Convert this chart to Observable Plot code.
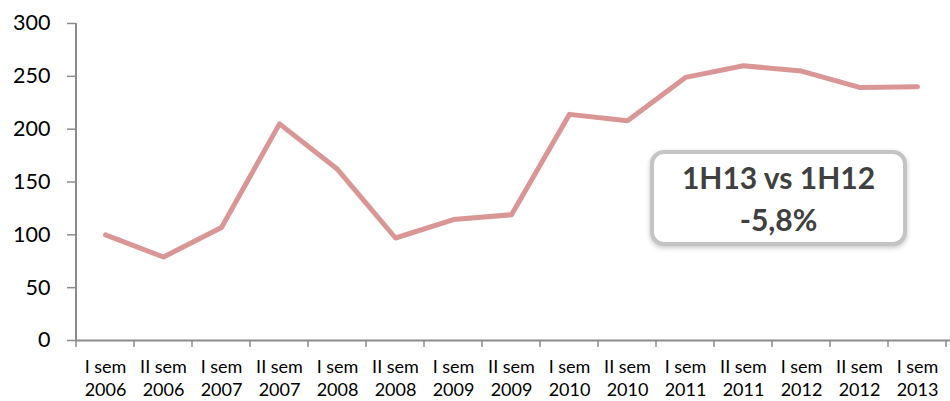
<!DOCTYPE html>
<html>
<head>
<meta charset="utf-8">
<script src="https://cdn.jsdelivr.net/npm/d3@7"></script>
<script src="https://cdn.jsdelivr.net/npm/@observablehq/plot@0.6"></script>
<style>
  html, body { margin: 0; padding: 0; background: #fff; }
  #wrap { position: relative; width: 950px; height: 401px; overflow: hidden; font-family: Lato, "Open Sans", sans-serif; }
  #note {
    position: absolute; left: 650px; top: 150px; width: 249px; height: 88px;
    border: 4px solid #c4c4c4; border-radius: 14px; background: #fff;
    box-shadow: 0 2px 5px rgba(0,0,0,0.22);
    color: #404040; font-weight: bold; font-size: 30px; line-height: 42px;
    text-align: center; display: flex; flex-direction: column; justify-content: center;
  }
</style>
</head>
<body>
<div id="wrap"></div>
<script>
// Half-year periods and their index values
const periods = ["I sem", "II sem", "I sem", "II sem", "I sem", "II sem", "I sem", "II sem",
                 "I sem", "II sem", "I sem", "II sem", "I sem", "II sem", "I sem"];
const years = ["2006", "2006", "2007", "2007", "2008", "2008", "2009", "2009",
               "2010", "2010", "2011", "2011", "2012", "2012", "2013"];
const values = [100, 79, 107, 205, 162, 97, 114.5, 119, 214, 208, 249, 260, 255, 239.5, 240.2];
const yTicks = [0, 50, 100, 150, 200, 250, 300];
const noteLines = ["1H13 vs 1H12", "-5,8%"];

const categories = periods.map((p, i) => `${p}\n${years[i]}`);
const data = categories.map((c, i) => ({period: c, value: values[i]}));

const axisColor = "#8c8c8c";

const chart = Plot.plot({
  width: 950,
  height: 401,
  marginLeft: 76,
  marginRight: -6,
  marginTop: 23,
  marginBottom: 61,
  style: {fontFamily: "Lato, 'Open Sans', sans-serif", color: "#000", background: "#fff", overflow: "visible"},
  x: {type: "band", domain: categories, padding: 0, align: 0},
  y: {domain: [0, 300]},
  marks: [
    Plot.axisY({ticks: yTicks, tickSize: 9, tickPadding: 17, fontSize: 21.5, stroke: axisColor, strokeWidth: 1.5, label: null}),
    Plot.axisX({tickSize: 0, tickPadding: 17, fontSize: 18, lineHeight: 1.25, label: null}),
    Plot.ruleY([0], {stroke: axisColor, strokeWidth: 2}),
    Plot.line(data, {x: "period", y: "value", stroke: "#d99694", strokeWidth: 5, strokeLinejoin: "round", strokeLinecap: "round"})
  ]
});

// Category boundary ticks and the vertical value axis, placed from the chart's own scales
const sx = chart.scale("x");
const sy = chart.scale("y");
const svg = d3.select(chart);
const y0 = sy.apply(0), yTop = sy.apply(300);
const g = svg.append("g").attr("stroke", axisColor);
g.append("line")
  .attr("x1", sx.range[0]).attr("x2", sx.range[0])
  .attr("y1", y0).attr("y2", yTop).attr("stroke-width", 2);
d3.range(categories.length + 1).forEach(i => {
  const x = sx.range[0] + i * sx.step;
  g.append("line").attr("x1", x).attr("x2", x).attr("y1", y0).attr("y2", y0 + 7).attr("stroke-width", 1.5);
});

const wrap = document.getElementById("wrap");
wrap.appendChild(chart);

const note = document.createElement("div");
note.id = "note";
noteLines.forEach(t => {
  const d = document.createElement("div");
  d.textContent = t;
  note.appendChild(d);
});
wrap.appendChild(note);
</script>
</body>
</html>
